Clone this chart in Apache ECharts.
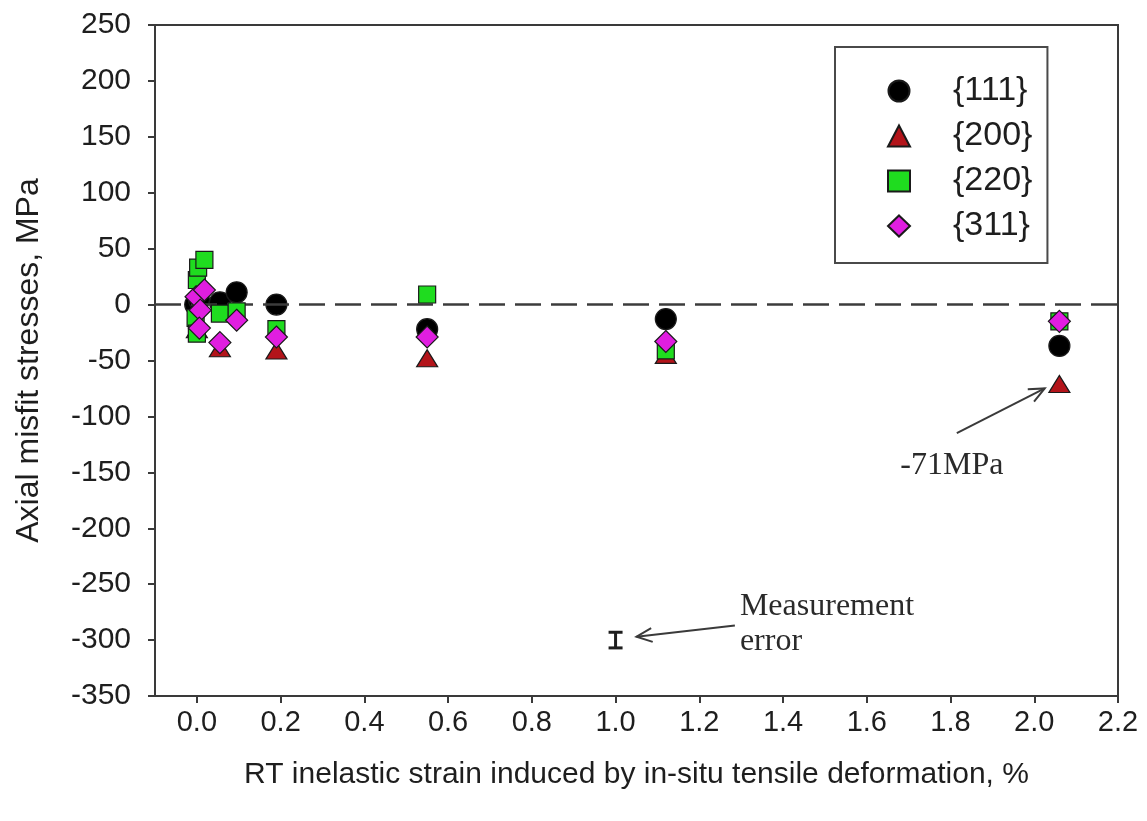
<!DOCTYPE html>
<html>
<head>
<meta charset="utf-8">
<title>Axial misfit stresses</title>
<script src="https://cdn.jsdelivr.net/npm/echarts@6/dist/echarts.min.js"></script>
<style>
  html, body { margin: 0; padding: 0; background: #ffffff; }
  #chart { width: 1147px; height: 821px; }
</style>
</head>
<body>
<div id="chart"></div>
<script>
// Tick labels on the strain axis
const xTickValues = [0.0, 0.2, 0.4, 0.6, 0.8, 1.0, 1.2, 1.4, 1.6, 1.8, 2.0, 2.2];

// Misfit stresses [strain %, MPa] per reflection family
const s111 = [[-0.004, 0], [0.005, 4], [0.055, 2], [0.095, 11], [0.19, 0], [0.55, -22], [1.12, -13], [2.06, -37]];
const s200 = [[0.0, -22], [0.055, -39], [0.19, -41], [0.55, -48], [1.12, -45], [2.06, -71]];
const s220 = [[0.0, 22], [0.003, 33], [0.018, 40], [-0.003, -12], [0.0, -26], [0.055, -8], [0.095, -6], [0.19, -22], [0.55, 9], [1.12, -41], [2.06, -15]];
const s311 = [[-0.002, 7], [0.018, 13], [0.008, -5], [0.006, -21], [0.055, -34], [0.095, -14], [0.19, -29], [0.55, -29], [1.12, -33], [2.06, -15]];

// Measurement error bar: [strain, stress, half-width MPa]
const errorBar = [[1.0, -300, 7]];

// Annotation arrows [x1, y1, x2, y2] (head at the second point) and notes
const arrowLines = [[1.815, -115, 2.025, -75], [1.285, -287, 1.05, -297]];
const notePoints = [[1.68, -144], [1.297, -270], [1.297, -301]];
const noteTexts = ['-71MPa', 'Measurement', 'error'];

const chart = echarts.init(document.getElementById('chart'), null, { renderer: 'canvas' });

const sans = 'Liberation Sans, Arial, sans-serif';
const serif = 'Liberation Serif, Times New Roman, serif';
const axisColor = '#3a3a3a';
const textColor = '#1e1e1e';

function scatter(name, data, symbol, size, color, z) {
  return {
    name: name,
    type: 'scatter',
    data: data,
    symbol: symbol,
    symbolSize: size,
    z: z,
    itemStyle: { color: color, opacity: 1, borderColor: '#1a1a1a', borderWidth: 1.2 },
    emphasis: { disabled: true }
  };
}

const option = {
  backgroundColor: '#ffffff',
  animation: false,
  grid: {
    left: 155, right: 29, top: 25, bottom: 125,
    show: true, borderColor: axisColor, borderWidth: 2, backgroundColor: 'transparent'
  },
  legend: {
    orient: 'vertical',
    left: 835, top: 47,
    backgroundColor: '#ffffff',
    borderColor: '#4a4a4a', borderWidth: 2, borderRadius: 0,
    padding: [27, 15, 20, 52],
    itemGap: 11,
    itemWidth: 22, itemHeight: 21,
    textStyle: { fontFamily: sans, fontSize: 34, color: textColor, padding: [0, 0, 0, 38] },
    data: ['{111}', '{200}', '{220}', '{311}']
  },
  xAxis: {
    type: 'value',
    min: -0.1, max: 2.2,
    name: 'RT inelastic strain induced by in-situ tensile deformation, %',
    nameLocation: 'middle',
    nameGap: 64,
    nameTextStyle: { fontFamily: sans, fontSize: 30, color: textColor },
    axisLine: { onZero: false, lineStyle: { color: axisColor, width: 2 } },
    axisTick: { show: true, inside: false, length: 7, customValues: xTickValues, lineStyle: { color: axisColor, width: 2 } },
    axisLabel: {
      customValues: xTickValues,
      formatter: v => v.toFixed(1),
      fontFamily: sans, fontSize: 29, color: textColor, margin: 12
    },
    splitLine: { show: false }
  },
  yAxis: {
    type: 'value',
    min: -350, max: 250, interval: 50,
    name: 'Axial misfit stresses, MPa',
    nameLocation: 'middle',
    nameGap: 110,
    nameTextStyle: { fontFamily: sans, fontSize: 32, color: textColor },
    axisLine: { onZero: false, lineStyle: { color: axisColor, width: 2 } },
    axisTick: { show: true, inside: false, length: 7, lineStyle: { color: axisColor, width: 2 } },
    axisLabel: { fontFamily: sans, fontSize: 30, color: textColor, margin: 24 },
    splitLine: { show: false }
  },
  series: [
    {
      // zero reference line
      type: 'line',
      data: [],
      silent: true,
      z: 1,
      markLine: {
        silent: true,
        symbol: ['none', 'none'],
        label: { show: false },
        lineStyle: { color: '#3c3c3c', width: 2.5, type: [26, 10] },
        data: [{ yAxis: 0 }]
      }
    },
    scatter('{111}', s111, 'circle', 21, '#000000', 3),
    scatter('{200}', s200, 'triangle', [21, 17], '#b3141a', 4),
    scatter('{220}', s220, 'rect', 17, '#1fdc1f', 5),
    scatter('{311}', s311, 'diamond', [22, 22], '#e01ee0', 6),
    {
      // measurement error bar
      type: 'custom',
      data: errorBar,
      z: 7,
      silent: true,
      clip: false,
      encode: { x: 0, y: 1 },
      renderItem: function (params, api) {
        const x = api.value(0), y = api.value(1), e = api.value(2);
        const top = api.coord([x, y + e]);
        const bot = api.coord([x, y - e]);
        const w = 7;
        const st = { stroke: '#1e1e1e', lineWidth: 3 };
        return {
          type: 'group',
          children: [
            { type: 'line', shape: { x1: top[0], y1: top[1], x2: bot[0], y2: bot[1] }, style: st },
            { type: 'line', shape: { x1: top[0] - w, y1: top[1], x2: top[0] + w, y2: top[1] }, style: st },
            { type: 'line', shape: { x1: bot[0] - w, y1: bot[1], x2: bot[0] + w, y2: bot[1] }, style: st }
          ]
        };
      }
    },
    {
      // annotation arrows with open heads
      type: 'custom',
      data: arrowLines,
      z: 7,
      silent: true,
      clip: false,
      encode: { x: [0, 2], y: [1, 3] },
      renderItem: function (params, api) {
        const p1 = api.coord([api.value(0), api.value(1)]);
        const p2 = api.coord([api.value(2), api.value(3)]);
        const ang = Math.atan2(p2[1] - p1[1], p2[0] - p1[0]);
        const hl = 17, ha = 0.42;
        const a1 = [p2[0] - hl * Math.cos(ang - ha), p2[1] - hl * Math.sin(ang - ha)];
        const a2 = [p2[0] - hl * Math.cos(ang + ha), p2[1] - hl * Math.sin(ang + ha)];
        const st = { stroke: '#3a3a3a', lineWidth: 2, fill: null };
        return {
          type: 'group',
          children: [
            { type: 'line', shape: { x1: p1[0], y1: p1[1], x2: p2[0], y2: p2[1] }, style: st },
            { type: 'polyline', shape: { points: [a1, p2, a2] }, style: st }
          ]
        };
      }
    },
    {
      // annotation notes
      type: 'custom',
      data: notePoints,
      z: 7,
      silent: true,
      clip: false,
      encode: { x: 0, y: 1 },
      renderItem: function (params, api) {
        const p = api.coord([api.value(0), api.value(1)]);
        return {
          type: 'text',
          x: p[0], y: p[1],
          style: {
            text: noteTexts[params.dataIndex],
            font: '32px ' + serif,
            fill: '#2a2a2a',
            align: 'left',
            verticalAlign: 'middle'
          }
        };
      }
    }
  ]
};

chart.setOption(option);
</script>
</body>
</html>
